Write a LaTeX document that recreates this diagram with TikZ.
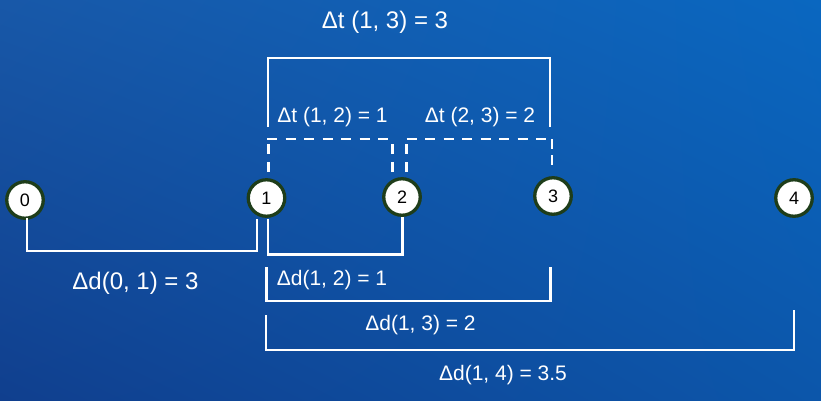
\documentclass[tikz,border=0pt]{standalone}
\usepackage{fontspec}
\setmainfont{Liberation Sans}
\usetikzlibrary{shadings}
\definecolor{bgUL}{HTML}{1858A8}
\definecolor{bgUR}{HTML}{0A67C0}
\definecolor{bgLL}{HTML}{103F8E}
\definecolor{bgLR}{HTML}{0C56AA}
\definecolor{ringcol}{HTML}{1E3D1A}
\tikzset{
  dot/.style={circle, draw=ringcol, line width=3.3pt, fill=white, minimum size=36.5pt, inner sep=0pt, font=\fontsize{18}{20}\selectfont},
  wline/.style={draw=white, line width=2.5pt},
  dline/.style={draw=white, line width=2.5pt, dash pattern=on 10pt off 8.5pt},
  dlineshort/.style={draw=white, line width=2.5pt, dash pattern=on 9.5pt off 6.5pt},
  biglab/.style={text=white, anchor=base, inner sep=0pt, font=\fontsize{24}{28}\selectfont},
  smalllab/.style={text=white, anchor=base, inner sep=0pt, font=\fontsize{21}{25}\selectfont}
}
\begin{document}
\begin{tikzpicture}[x=1pt,y=-1pt]
\shade[upper left=bgUL, upper right=bgUR, lower left=bgLL, lower right=bgLR] (0,0) rectangle (821,400);
\useasboundingbox (0,0) rectangle (821,400);

% nodes
\node[dot] (n0) at (25,200) {0};
\node[dot] (n1) at (266.5,198) {1};
\node[dot] (n2) at (402,197) {2};
\node[dot] (n3) at (553,196) {3};
\node[dot] (n4) at (794,198) {4};

% Delta t (1,3) bracket
\coordinate (t13L) at (268,127);
\coordinate (t13C) at (268,58);
\coordinate (t13R) at (550,127);
\draw[wline] (t13L) |- (t13C -| t13R) -- (t13R);

% dashed Delta t (1,2)
\coordinate (t12L) at (268.5,172);
\coordinate (t12Lt) at (268.5,143);
\coordinate (t12T) at (267,139);
\coordinate (t12Te) at (388,139);
\coordinate (t12R) at (392.5,172);
\coordinate (t12Rt) at (392.5,143);
\draw[dline] (t12L) -- (t12Lt);
\draw[dline] (t12T) -- (t12Te);
\draw[dline] (t12R) -- (t12Rt);

% dashed Delta t (2,3)
\coordinate (t23L) at (406.7,172);
\coordinate (t23Lt) at (406.7,143);
\coordinate (t23T) at (406.7,139);
\coordinate (t23Te) at (547,139);
\coordinate (t23R) at (552,139);
\coordinate (t23Rb) at (552,166);
\draw[dline] (t23L) -- (t23Lt);
\draw[dline] (t23T) -- (t23Te);
\draw[dlineshort] (t23R) -- (t23Rb);

% Delta d (0,1)
\coordinate (d01L) at (27,218);
\coordinate (d01B) at (27,251);
\coordinate (d01R) at (257,219);
\draw[wline] (d01L) -- (d01B) -| (d01R);

% Delta d (1,2)
\coordinate (d12L) at (268,219);
\coordinate (d12B) at (268,254.5);
\coordinate (d12R) at (402.5,217);
\draw[wline] (d12L) -- (d12B) -| (d12R);

% Delta d (1,3)
\coordinate (d13L) at (266.5,267);
\coordinate (d13B) at (266.5,301);
\coordinate (d13R) at (550.5,267);
\draw[wline] (d13L) -- (d13B) -| (d13R);

% Delta d (1,4)
\coordinate (d14L) at (266,315);
\coordinate (d14B) at (266,350);
\coordinate (d14R) at (794,310);
\draw[wline] (d14L) -- (d14B) -| (d14R);

% labels
\node[biglab] (lt13) at (385,28.6) {Δt (1, 3) = 3};
\node[smalllab] (lt12) at (332.5,122.5) {Δt (1, 2) = 1};
\node[smalllab] (lt23) at (480,122.5) {Δt (2, 3) = 2};
\node[biglab] (ld01) at (135.5,289.6) {Δd(0, 1) = 3};
\node[smalllab] (ld12) at (332,285.5) {Δd(1, 2) = 1};
\node[smalllab] (ld13) at (420.5,330.2) {Δd(1, 3) = 2};
\node[smalllab] (ld14) at (503,380.5) {Δd(1, 4) = 3.5};
\end{tikzpicture}
\end{document}
